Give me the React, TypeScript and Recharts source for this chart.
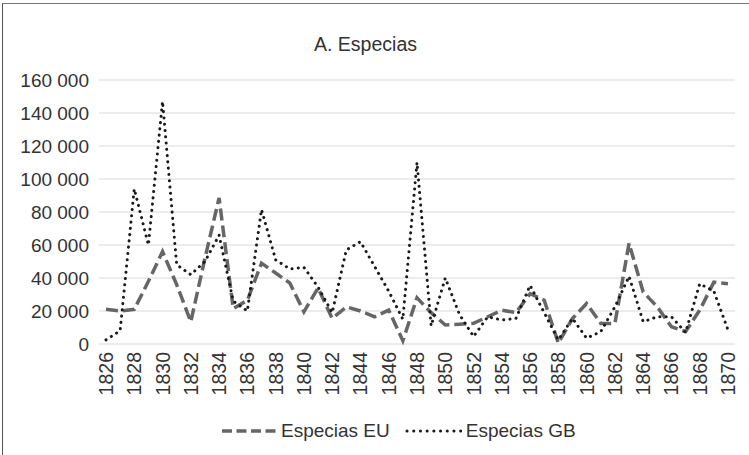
import React from 'react';
import { LineChart, Line, XAxis, YAxis, CartesianGrid } from 'recharts';

const years: number[] = [
  1826, 1827, 1828, 1829, 1830, 1831, 1832, 1833, 1834, 1835, 1836, 1837, 1838, 1839, 1840,
  1841, 1842, 1843, 1844, 1845, 1846, 1847, 1848, 1849, 1850, 1851, 1852, 1853, 1854, 1855,
  1856, 1857, 1858, 1859, 1860, 1861, 1862, 1863, 1864, 1865, 1866, 1867, 1868, 1869, 1870,
];

const especiasEU: number[] = [
  21000, 20000, 21000, 38000, 56000, 36000, 13500, 52000, 88500, 21500, 26500, 49000, 43000, 37000, 19500,
  34000, 15500, 22500, 20000, 16500, 20500, 2000, 28000, 19000, 11500, 12000, 12500, 16500, 20500, 19000,
  30500, 26500, 500, 15500, 24500, 12500, 12500, 61000, 31500, 22500, 10500, 7500, 20500, 37500, 36500,
];

const especiasGB: number[] = [
  2500, 8000, 94000, 60000, 147000, 48000, 42000, 50000, 66000, 26000, 20000, 81500, 51000, 45500, 46500,
  34500, 19000, 57000, 62000, 47000, 32000, 15000, 110000, 11000, 40000, 18000, 4500, 16500, 14500, 15500,
  35500, 19000, 2500, 15500, 3500, 7500, 22500, 41000, 13500, 16500, 16500, 7000, 36500, 32000, 8500,
];

const yTicks: number[] = [0, 20000, 40000, 60000, 80000, 100000, 120000, 140000, 160000];

const seriesNames = { eu: 'Especias EU', gb: 'Especias GB' };
const titleText = 'A. Especias';

const data = years.map((y, i) => ({ year: String(y), eu: especiasEU[i], gb: especiasGB[i] }));

const FONT = '"Liberation Sans", Arial, sans-serif';
const TEXT_COLOR = '#333333';
const EU_COLOR = '#666666';
const GB_COLOR = '#1a1a1a';

const fmt = (v: number) => {
  const s = String(v);
  return s.replace(/\B(?=(\d{3})+(?!\d))/g, ' ');
};

const XTick = (props: any) => {
  const { x, y, payload } = props;
  return (
    <text
      x={x}
      y={y}
      transform={`rotate(-90 ${x} ${y})`}
      textAnchor="end"
      dy="0.36em"
      fontFamily={FONT}
      fontSize={19.5}
      fill={TEXT_COLOR}
    >
      {payload.value}
    </text>
  );
};

const LegendBox = () => (
  <div
    style={{
      position: 'absolute',
      left: 0,
      top: 420,
      width: 749,
      display: 'flex',
      alignItems: 'center',
      paddingLeft: 222,
      boxSizing: 'border-box',
      fontFamily: FONT,
      fontSize: 19,
      color: TEXT_COLOR,
      lineHeight: '22px',
    }}
  >
    <svg width={56} height={10} style={{ display: 'block' }}>
      <line x1={0} y1={5} x2={56} y2={5} stroke={EU_COLOR} strokeWidth={3.5} strokeDasharray="10 4.5" />
    </svg>
    <span style={{ marginLeft: 3 }}>{seriesNames.eu}</span>
    <svg width={60} height={10} style={{ display: 'block', marginLeft: 15 }}>
      <line x1={2} y1={5} x2={60} y2={5} stroke={GB_COLOR} strokeWidth={3} strokeLinecap="round" strokeDasharray="0.1 6.6" />
    </svg>
    <span style={{ marginLeft: 1 }}>{seriesNames.gb}</span>
  </div>
);

export default function App() {
  return (
    <div style={{ position: 'absolute', left: 0, top: 0, width: 749, height: 455, background: '#ffffff', overflow: 'hidden' }}>
      <div
        style={{
          position: 'absolute',
          left: 2,
          top: 3,
          width: 760,
          height: 470,
          borderLeft: '1px solid #555555',
          borderTop: '1px solid #777777',
          pointerEvents: 'none',
        }}
      />
      <div
        style={{
          position: 'absolute',
          left: 0,
          top: 35,
          width: 731,
          textAlign: 'center',
          fontFamily: FONT,
          fontSize: 19.5,
          lineHeight: '19px',
          color: TEXT_COLOR,
        }}
      >
        {titleText}
      </div>
      <LineChart
        width={749}
        height={455}
        data={data}
        margin={{ top: 80, right: 14, bottom: 0, left: 10 }}
        style={{ position: 'absolute', left: 0, top: 0 }}
      >
        <CartesianGrid horizontal vertical={false} stroke="#d9d9d9" strokeWidth={1} />
        <XAxis
          dataKey="year"
          interval={1}
          axisLine={false}
          tickLine={false}
          tickSize={0}
          tickMargin={8}
          height={111}
          padding={{ left: 7, right: 7 }}
          tick={<XTick />}
        />
        <YAxis
          domain={[0, 160000]}
          ticks={yTicks}
          interval={0}
          axisLine={false}
          tickLine={false}
          tickSize={0}
          tickMargin={10}
          width={89}
          tickFormatter={fmt}
          tick={{ fontFamily: FONT, fontSize: 19, fill: TEXT_COLOR }}
        />
        <Line
          type="linear"
          dataKey="eu"
          name={seriesNames.eu}
          stroke={EU_COLOR}
          strokeWidth={3.5}
          strokeDasharray="12 5"
          dot={false}
          activeDot={false}
          isAnimationActive={false}
        />
        <Line
          type="linear"
          dataKey="gb"
          name={seriesNames.gb}
          stroke={GB_COLOR}
          strokeWidth={3}
          strokeLinecap="round"
          strokeDasharray="0.1 6.2"
          dot={false}
          activeDot={false}
          isAnimationActive={false}
        />
      </LineChart>
      <LegendBox />
    </div>
  );
}
